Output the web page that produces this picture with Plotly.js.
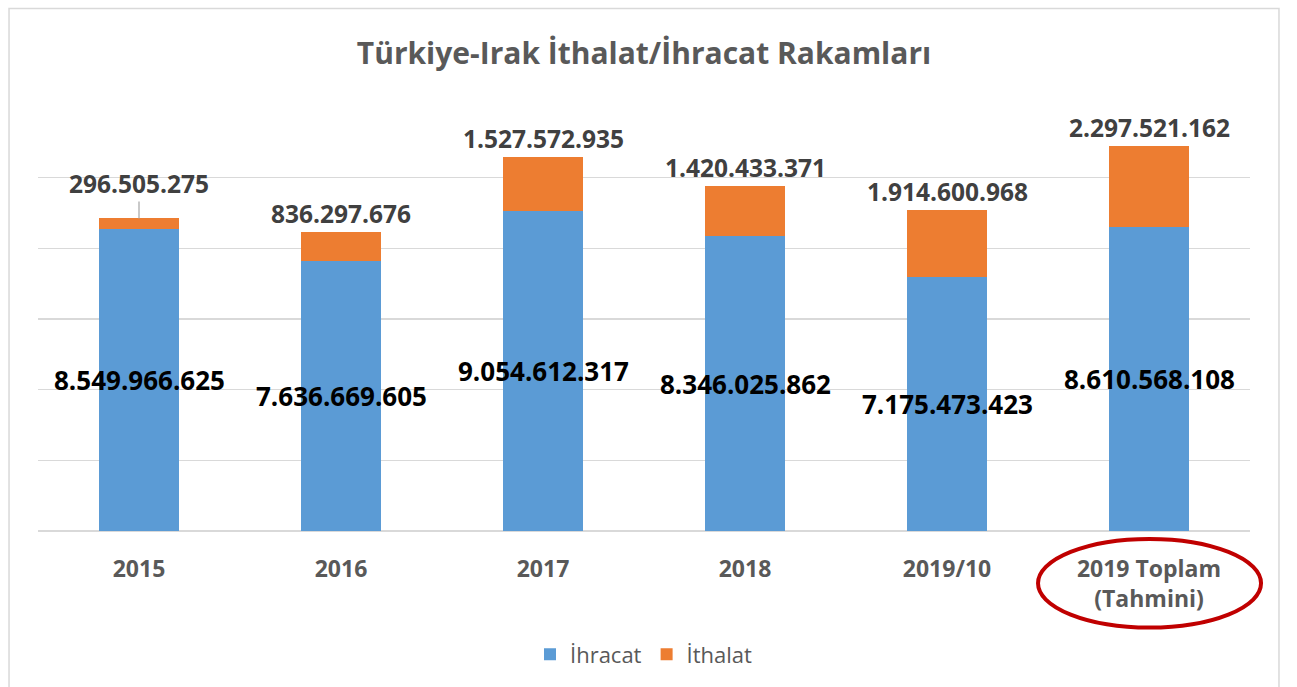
<!DOCTYPE html>
<html>
<head>
<meta charset="utf-8">
<script src="https://cdn.plot.ly/plotly-3.0.1.min.js"></script>
<style>html,body{margin:0;padding:0;background:#fff;}#chart{width:1297px;height:687px;}</style>
</head>
<body>
<div id="chart"></div>
<script>
const categories = ["2015", "2016", "2017", "2018", "2019/10", "2019 Toplam<br>(Tahmini)"];
const ihracat = [8549966625, 7636669605, 9054612317, 8346025862, 7175473423, 8610568108];
const ithalat = [296505275, 836297676, 1527572935, 1420433371, 1914600968, 2297521162];
const seriesNames = ["İhracat", "İthalat"];
const titleText = "Türkiye-Irak İthalat/İhracat Rakamları";

const BLUE = "#5B9BD5", ORANGE = "#ED7D31";
const FONT = "Open Sans";

function fmt(v) {
  return String(v).replace(/\B(?=(\d{3})+(?!\d))/g, ".");
}

const traces = [
  { type: "bar", name: seriesNames[0], x: categories, y: ihracat,
    marker: { color: BLUE }, hoverinfo: "skip" },
  { type: "bar", name: seriesNames[1], x: categories, y: ithalat,
    marker: { color: ORANGE }, hoverinfo: "skip" }
];

const annotations = [];
categories.forEach((c, i) => {
  annotations.push({
    x: i, y: ihracat[i] / 2, xref: "x", yref: "y",
    text: "<b>" + fmt(ihracat[i]) + "</b>", showarrow: false,
    font: { family: FONT, size: 26, color: "#000000" }
  });
  const total = ihracat[i] + ithalat[i];
  if (i === 0) {
    annotations.push({
      x: i, y: total, xref: "x", yref: "y",
      text: "<b>" + fmt(ithalat[i]) + "</b>", showarrow: true,
      arrowhead: 0, arrowwidth: 1.2, arrowcolor: "#A6A6A6", ax: 0, ay: -35, standoff: 0,
      font: { family: FONT, size: 24.5, color: "#404040" }
    });
  } else {
    annotations.push({
      x: i, y: total, xref: "x", yref: "y", yanchor: "bottom",
      text: "<b>" + fmt(ithalat[i]) + "</b>", showarrow: false,
      font: { family: FONT, size: 24.5, color: "#404040" }
    });
  }
});

const layout = {
  width: 1297, height: 687,
  margin: { l: 38, r: 47, t: 107, b: 154 },
  paper_bgcolor: "#ffffff", plot_bgcolor: "#ffffff",
  barmode: "stack", bargap: 0.6,
  font: { family: FONT, color: "#595959" },
  title: { text: "<b>" + titleText + "</b>", x: 0.5, xanchor: "center", xref: "paper",
           y: 55, yref: "container", yanchor: "middle",
           font: { family: FONT, size: 30, color: "#595959" } },
  xaxis: { type: "category", range: [-0.5, categories.length - 0.5], autorange: false,
           showline: false, ticks: "", showgrid: false,
           tickfont: { family: FONT, size: 23, color: "#595959", weight: "bold" },
           ticklabelstandoff: 22, fixedrange: true },
  yaxis: { range: [0, 12e9], autorange: false, dtick: 2e9, showticklabels: false, showgrid: true,
           gridcolor: "#D9D9D9", gridwidth: 1.5, zeroline: true, zerolinecolor: "#D9D9D9",
           zerolinewidth: 1.5, fixedrange: true },
  showlegend: true,
  legend: { orientation: "h", x: 0.5, xanchor: "center", y: -0.291, yanchor: "middle",
            font: { family: FONT, size: 22, color: "#595959" }, traceorder: "normal" },
  annotations: annotations,
  shapes: [
    { type: "rect", xref: "paper", yref: "paper", x0: -0.0239, x1: 1.0239, y0: -0.45, y1: 1.2324,
      line: { color: "#D9D9D9", width: 1.5 }, fillcolor: "rgba(0,0,0,0)", layer: "below" },
    { type: "circle", xref: "paper", yref: "paper", x0: 0.8251, x1: 1.0091, y0: -0.2277, y1: -0.0188,
      line: { color: "#C00000", width: 4 }, fillcolor: "rgba(0,0,0,0)" }
  ]
};

Plotly.newPlot("chart", traces, layout, { displayModeBar: false, staticPlot: true });
</script>
</body>
</html>
